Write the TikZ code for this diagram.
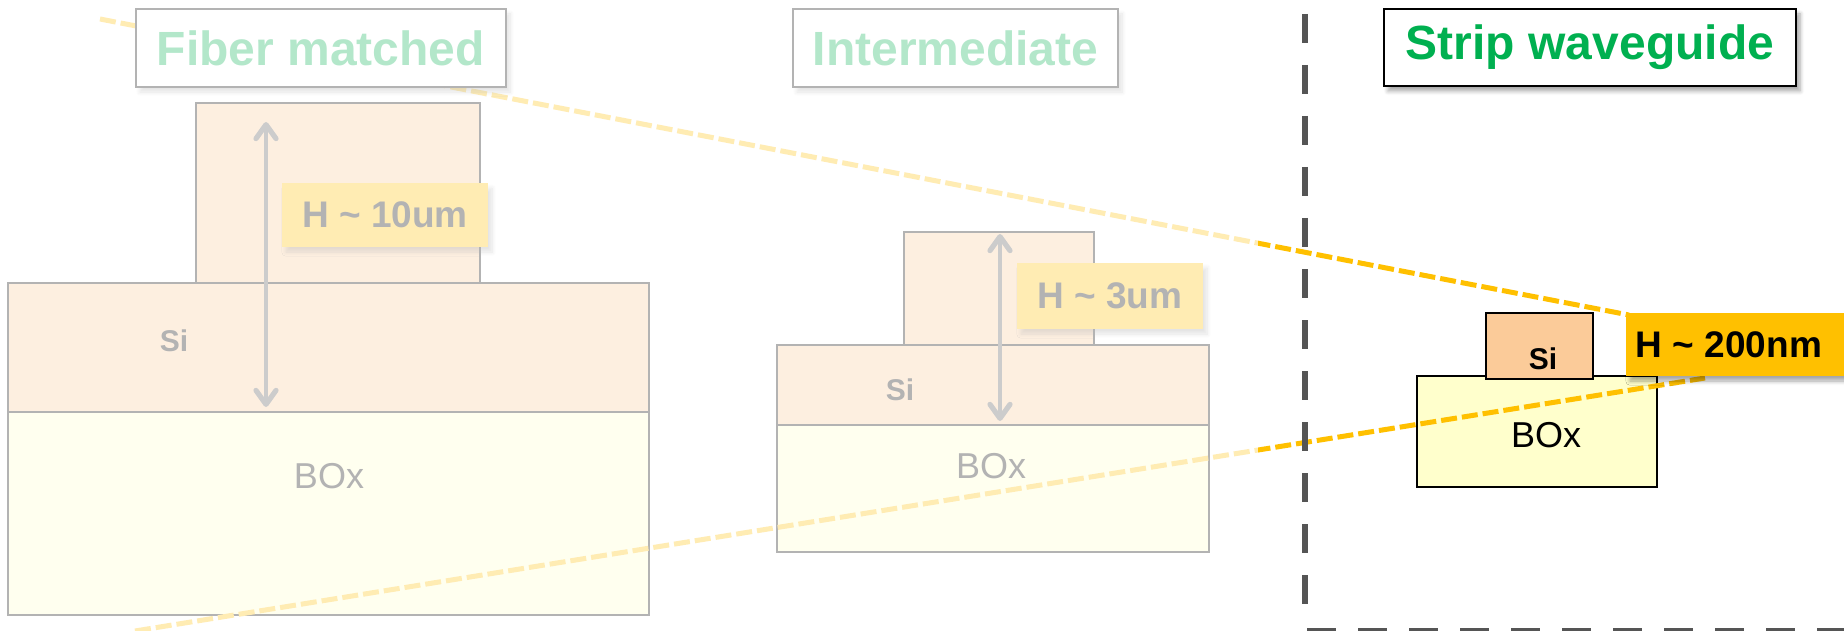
\documentclass[tikz,border=0pt]{standalone}
\usepackage{fontspec}
\setmainfont{Liberation Sans}
\usetikzlibrary{fit,shadows.blur,arrows.meta}
\definecolor{sifill}{HTML}{FBCB99}
\definecolor{boxfill}{HTML}{FFFFCC}
\definecolor{hgold}{HTML}{FFC000}
\definecolor{tgreen}{HTML}{00B050}
\definecolor{divgray}{HTML}{555555}
\tikzset{
 layer/.style={draw=black, line width=1pt, inner sep=0pt, outer sep=0pt},
 silayer/.style={layer, fill=sifill},
 boxlayer/.style={layer, fill=boxfill},
 shad/.style={blur shadow={shadow xshift=2pt, shadow yshift=-2.5pt, shadow blur steps=6, shadow opacity=35}},
 titlebox/.style={draw=black, line width=1.2pt, fill=white, inner sep=0pt, outer sep=0pt, shad},
 titletext/.style={font=\bfseries\fontsize{24}{28}\selectfont, text=tgreen},
 hbox/.style={fill=hgold, inner sep=0pt, outer sep=0pt, shad},
 htext/.style={font=\bfseries\fontsize{18.5}{22}\selectfont},
 sitext/.style={font=\bfseries\fontsize{15}{18}\selectfont},
 boxtext/.style={font=\fontsize{18}{22}\selectfont},
 harrow/.style={draw=divgray, line width=2pt,
   {Straight Barb[length=7pt,width=10pt,line width=2.6pt,round]}-{Straight Barb[length=7pt,width=10pt,line width=2.6pt,round]}},
 guide/.style={draw=hgold, line width=2.5pt, dash pattern=on 8pt off 2.5pt},
 divider/.style={draw=divgray, line width=3.2pt, dash pattern=on 14.5pt off 11pt},
 fade/.style={fill=white, fill opacity=0.7, draw=none},
}
\begin{document}
\begin{tikzpicture}[x=0.5pt, y=-0.5pt]
\useasboundingbox (0,0) rectangle (1844,631);
% ---- Fiber matched stage
\node[silayer, fit={(196,103.5) (480,283)}] (topL) {};
\node[silayer, fit={(8,283) (649,411.6)}] (siL) {};
\node[boxlayer, fit={(8,411.6) (649,615)}] (boxL) {};
\node[sitext] (siLt) at (174,341) {Si};
\node[boxtext] (boxLt) at (329,476) {BOx};
% ---- Intermediate stage
\node[silayer, fit={(904,232) (1094,344.5)}] (topM) {};
\node[silayer, fit={(777,344.5) (1209,424.5)}] (siM) {};
\node[boxlayer, fit={(777,424.5) (1209,551.5)}] (boxM) {};
\node[sitext] (siMt) at (900,390) {Si};
\node[boxtext] (boxMt) at (991,466) {BOx};
% ---- Strip waveguide stage
\node[boxlayer, line width=1.3pt, fit={(1417,376) (1657,487)}] (boxR) {};
\node[silayer, line width=1.3pt, fit={(1486,313) (1593,379)}] (siR) {};
\node[sitext] (siRt) at (1543,359) {Si};
\node[boxtext] (boxRt) at (1546,435) {BOx};
% ---- guide lines
\coordinate (u1) at (100,19);
\coordinate (u2) at (1629,315);
\coordinate (l1) at (135,631);
\coordinate (l2) at (1705,378);
\draw[guide] (u1) -- (u2);
\draw[guide] (l1) -- (l2);
% ---- titles
\node[titlebox, fit={(136,9) (506,87)}] (tFM) {};
\node[titletext] at (tFM.center) {Fiber matched};
\node[titlebox, fit={(793,9) (1118,87)}] (tIM) {};
\node[titletext] at (tIM.center) {Intermediate};
\node[titlebox, fit={(1384,9) (1796,86)}] (tSW) {};
\node[titletext] at (tSW.center) {Strip waveguide};
% ---- height labels
\node[hbox, fit={(282,183.5) (488,247)}] (hL) {};
\node[htext] at (hL.center) {H \textasciitilde{} 10um};
\node[hbox, fit={(1017,263) (1203,329)}] (hM) {};
\node[htext] at (hM.center) {H \textasciitilde{} 3um};
\node[hbox, fit={(1626,313) (1870,376)}] (hR) {};
\node[htext] at (1729,345) {H \textasciitilde{} 200nm};
% ---- arrows
\coordinate (aLt) at (266,122);
\coordinate (aLb) at (266,407);
\coordinate (aMt) at (1000,234);
\coordinate (aMb) at (1000,421);
\draw[harrow] (aLt) -- (aLb);
\draw[harrow] (aMt) -- (aMb);
% ---- fade overlay for left stages
\fill[fade] (0,0) rectangle (1258,631);
% ---- divider
\coordinate (d1) at (1305,14);
\coordinate (d2) at (1305,611);
\coordinate (d3) at (1307,631);
\coordinate (d4) at (1844,631);
\draw[divider] (d1) -- (d2);
\draw[divider] (d3) -- (d4);
\end{tikzpicture}
\end{document}
